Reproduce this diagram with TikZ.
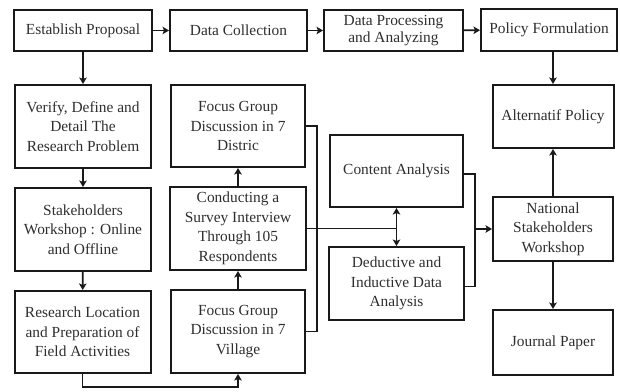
\documentclass[tikz,border=0pt]{standalone}
\usepackage{fontspec}
\setmainfont{Liberation Serif}
\usetikzlibrary{arrows.meta}
\begin{document}
\begin{tikzpicture}[x=1pt,y=-1pt,
  box/.style={draw=black!90, line width=2pt, align=center, inner sep=1pt,
    text=black!82, font=\fontsize{15.4}{19.5}\selectfont},
  ln/.style={draw=black!90, line width=1.9pt},
  arr/.style={ln, -{Stealth[length=6.5pt,width=7.5pt,inset=1.5pt]}},
  darr/.style={ln, {Stealth[length=6.5pt,width=7.5pt,inset=1.5pt]}-{Stealth[length=6.5pt,width=7.5pt,inset=1.5pt]}}]
\useasboundingbox (0,0) rectangle (620,391);
% top row
\node[box, minimum width=138, minimum height=41] (est) at (83,30.5) {Establish Proposal};
\node[box, minimum width=137, minimum height=41] (dc) at (238.5,30.5) {Data Collection};
\node[box, minimum width=139, minimum height=41, font=\fontsize{15.4}{17.5}\selectfont] (dp) at (393.5,30.5) {Data Processing\\and Analyzing};
\node[box, minimum width=136, minimum height=42] (pf) at (549,30) {Policy Formulation};
% column 1
\node[box, minimum width=136, minimum height=83] (ver) at (83,126.5) {Verify, Define and\\Detail The\\Research Problem};
\node[box, minimum width=136, minimum height=83] (sw) at (83,229.5) {Stakeholders\\Workshop : Online\\and Offline};
\node[box, minimum width=136, minimum height=82] (rl) at (82.5,332) {Research Location\\and Preparation of\\Field Activities};
% column 2
\node[box, minimum width=134, minimum height=82] (fgd) at (238,126) {Focus Group\\Discussion in 7\\Distric};
\node[box, minimum width=136, minimum height=83] (cs) at (238,228.5) {Conducting a\\Survey Interview\\Through 105\\Respondents};
\node[box, minimum width=134, minimum height=83] (fgv) at (238,331.5) {Focus Group\\Discussion in 7\\Village};
% column 3
\node[box, minimum width=133, minimum height=72] (ca) at (396.5,171) {Content Analysis};
\node[box, minimum width=135, minimum height=73] (dd) at (396.5,283.5) {Deductive and\\Inductive Data\\Analysis};
% column 4
\node[box, minimum width=121, minimum height=63] (ap) at (553,116.5) {Alternatif Policy};
\node[box, minimum width=120, minimum height=64] (nsw) at (553,229) {National\\Stakeholders\\Workshop};
\node[box, minimum width=120, minimum height=65] (jp) at (553,342.5) {Journal Paper};
% connectors
\draw[arr] (est) -- (dc);
\draw[arr] (dc) -- (dp);
\draw[arr] (dp) -- (pf);
\draw[arr] (est.south) -- (ver.north);
\draw[arr] (pf.south -| ap.north) -- (ap.north);
\draw[arr] (ver) -- (sw);
\draw[arr] (sw) -- (rl);
\draw[arr] (rl.south) -- ++(0,13) -| (fgv.south);
\draw[arr] (fgv) -- (cs);
\draw[arr] (cs) -- (fgd);
\draw[ln] (fgd.east) -- ++(11,0) |- (fgv.east);
\coordinate (j) at (ca.south |- cs.east);
\draw[ln] (cs.east) -- (j);
\draw[darr] (ca.south) -- (dd.north);
\draw[ln] ([yshift=-3]ca.east) -- ++(11,0) coordinate (cr) |- ([yshift=-3]dd.east);
\coordinate (m) at (cr |- nsw.west);
\draw[arr] (m) -- (nsw.west);
\draw[arr] (nsw) -- (ap);
\draw[arr] (nsw) -- (jp);
\end{tikzpicture}
\end{document}
